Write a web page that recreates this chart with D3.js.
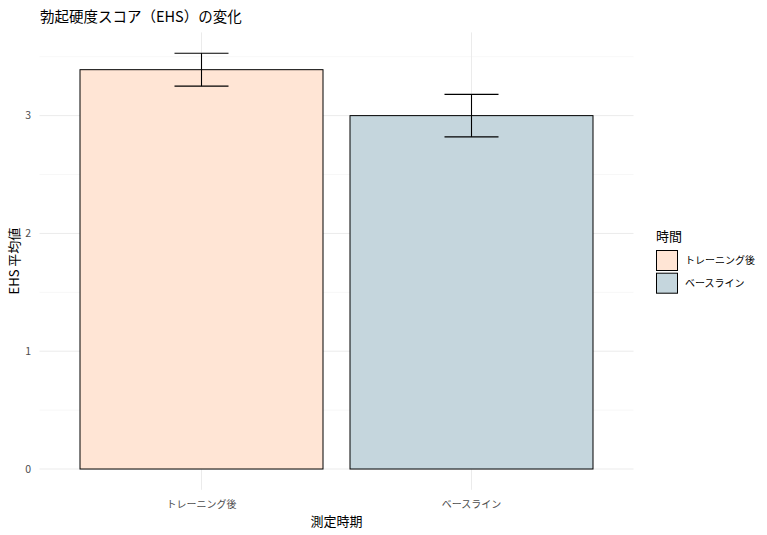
<!DOCTYPE html>
<html><head><meta charset="utf-8">
<script src="https://cdn.jsdelivr.net/npm/d3@7"></script>
<style>body{margin:0;background:#fff;} text{font-family:"Noto Sans CJK JP","Noto Sans",sans-serif;}</style>
</head><body><svg id="c" width="767" height="535"></svg>
<script>
const categories = ["トレーニング後", "ベースライン"];
const means = [3.39, 3.0];
const errors = [0.14, 0.18];
const yTicks = [0, 1, 2, 3];
const fills = ["#FFE5D5", "#C5D6DD"];

const svg = d3.select("#c");
const W = 767, H = 535;
const panel = {left: 39.5, right: 633.5, top: 32.4, bottom: 489.8};

const ymaxData = d3.max(means.map((m, i) => m + errors[i]));
const expand = ymaxData * 0.05;
const y = d3.scaleLinear().domain([-expand, ymaxData + expand]).range([panel.bottom, panel.top]);
// discrete x with 0.6 expansion on each side
const x = d3.scalePoint().domain(categories).range([panel.left, panel.right]).padding(0.6 * 2 / (categories.length - 1 + 1.2) * (categories.length - 1 + 1.2) / 2);
const step = (panel.right - panel.left) / (categories.length - 1 + 1.2);
const cx = c => panel.left + step * (0.6 + categories.indexOf(c));

const g = svg.append("g");
// minor grid
const minor = [0.5, 1.5, 2.5, 3.5];
g.selectAll(".mg").data(minor).join("line")
  .attr("x1", panel.left).attr("x2", panel.right)
  .attr("y1", d => y(d)).attr("y2", d => y(d))
  .attr("stroke", "#F2F2F2").attr("stroke-width", 0.6);
g.selectAll(".gy").data(yTicks).join("line")
  .attr("x1", panel.left).attr("x2", panel.right)
  .attr("y1", d => y(d)).attr("y2", d => y(d))
  .attr("stroke", "#EBEBEB").attr("stroke-width", 1);
g.selectAll(".gx").data(categories).join("line")
  .attr("x1", d => cx(d)).attr("x2", d => cx(d))
  .attr("y1", panel.top).attr("y2", panel.bottom)
  .attr("stroke", "#EBEBEB").attr("stroke-width", 1);

// bars
const bw = step * 0.9;
g.selectAll(".bar").data(categories).join("rect")
  .attr("x", d => cx(d) - bw / 2).attr("width", bw)
  .attr("y", (d, i) => y(means[i])).attr("height", (d, i) => y(0) - y(means[i]))
  .attr("fill", (d, i) => fills[i]).attr("stroke", "#000").attr("stroke-width", 1);

// error bars
const ew = step * 0.2;
categories.forEach((c, i) => {
  const lo = y(means[i] - errors[i]), hi = y(means[i] + errors[i]);
  const e = g.append("g").attr("stroke", "#000").attr("stroke-width", 1.1);
  e.append("line").attr("x1", cx(c)).attr("x2", cx(c)).attr("y1", lo).attr("y2", hi);
  e.append("line").attr("x1", cx(c) - ew / 2).attr("x2", cx(c) + ew / 2).attr("y1", lo).attr("y2", lo);
  e.append("line").attr("x1", cx(c) - ew / 2).attr("x2", cx(c) + ew / 2).attr("y1", hi).attr("y2", hi);
});

// y ticks
svg.selectAll(".yt").data(yTicks).join("text")
  .attr("x", 31).attr("y", d => y(d)).attr("dy", "0.35em")
  .attr("text-anchor", "end").attr("font-size", 10.5).attr("fill", "#4D4D4D")
  .text(d => d);
// x ticks
svg.selectAll(".xt").data(categories).join("text")
  .attr("x", d => cx(d)).attr("y", 508)
  .attr("text-anchor", "middle").attr("font-size", 10).attr("fill", "#4D4D4D")
  .text(d => d);

// axis titles
svg.append("text").attr("x", (panel.left + panel.right) / 2).attr("y", 526)
  .attr("text-anchor", "middle").attr("font-size", 13).attr("fill", "#000").text("測定時期");
svg.append("text").attr("transform", `translate(19,${(panel.top + panel.bottom) / 2}) rotate(-90)`)
  .attr("text-anchor", "middle").attr("font-size", 13).attr("fill", "#000").text("EHS 平均値");

// title
svg.append("text").attr("x", 40).attr("y", 22).attr("font-size", 14.5).attr("fill", "#000")
  .text("勃起硬度スコア（EHS）の変化");

// legend
const lg = svg.append("g");
lg.append("text").attr("x", 656).attr("y", 241).attr("font-size", 13).attr("fill", "#000").text("時間");
categories.forEach((c, i) => {
  const yy = 250.5 + i * 22.7;
  lg.append("rect").attr("x", 656.5).attr("y", yy).attr("width", 21).attr("height", 20)
    .attr("fill", fills[i]).attr("stroke", "#000").attr("stroke-width", 1);
  lg.append("text").attr("x", 685).attr("y", yy + 10).attr("dy", "0.35em")
    .attr("font-size", 10).attr("fill", "#000").text(c);
});
</script></body></html>
